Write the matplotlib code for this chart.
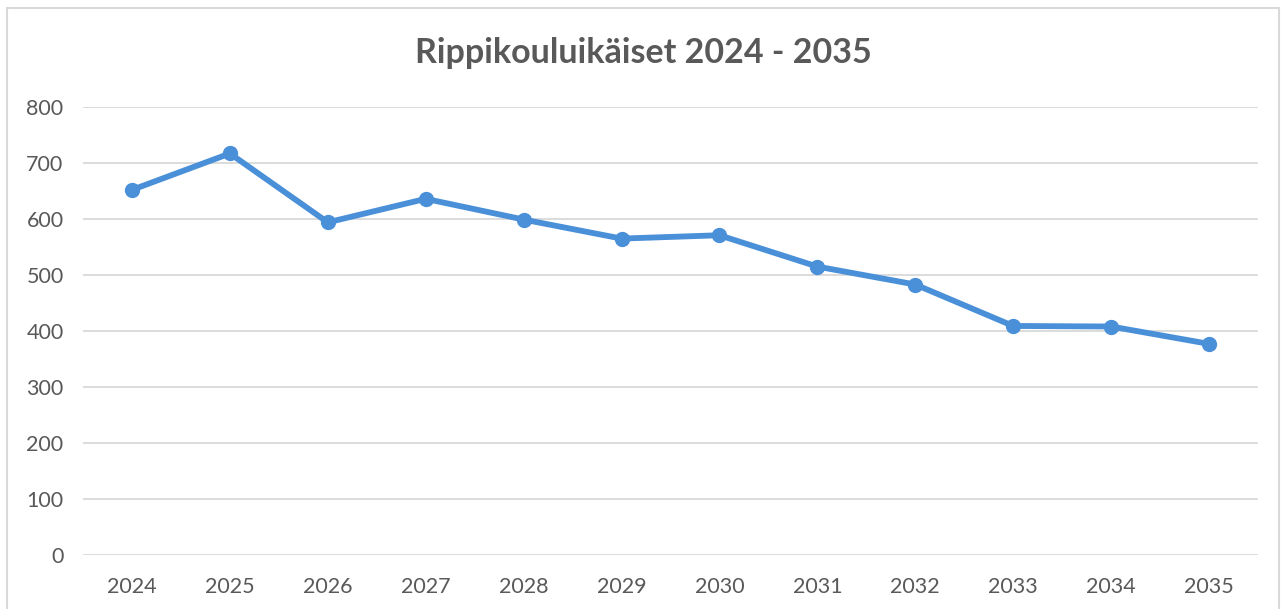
import matplotlib
matplotlib.use("Agg")
import matplotlib.pyplot as plt
from matplotlib.patches import Rectangle

years = ["2024", "2025", "2026", "2027", "2028", "2029", "2030", "2031", "2032", "2033", "2034", "2035"]
values = [652, 717, 594, 636, 599, 565, 571, 515, 483, 409, 408, 377]
yticks = [0, 100, 200, 300, 400, 500, 600, 700, 800]
title = "Rippikouluikäiset 2024 - 2035"

W, H = 1286, 609
plt.rcParams['font.family'] = ['Lato', 'DejaVu Sans']
fig = plt.figure(figsize=(W / 100, H / 100), dpi=100)
fig.patch.set_facecolor('white')

# outer frame
fig.patches.append(Rectangle((7 / W, -0.05), (1279 - 7) / W, (H - 8) / H + 0.05,
                             transform=fig.transFigure, fill=False,
                             edgecolor='#D9D9D9', linewidth=1.5))

left, right, top, bottom = 83, 1258, 107, 555
ax = fig.add_axes([left / W, (H - bottom) / H, (right - left) / W, (bottom - top) / H])

x = list(range(len(years)))
ax.plot(x, values, color='#4A90D9', linewidth=4.2, marker='o', markersize=10,
        solid_joinstyle='round', zorder=3)

ax.set_xlim(-0.5, len(years) - 0.5)
ax.set_ylim(0, 800)
ax.set_yticks(yticks)
ax.set_yticklabels([str(v) for v in yticks])
ax.set_xticks(x)
ax.set_xticklabels(years)
ax.grid(axis='y', color='#D9D9D9', linewidth=1.3)
ax.set_axisbelow(True)
for s in ax.spines.values():
    s.set_visible(False)
ax.tick_params(axis='both', length=0, labelsize=15.5, colors='#595959')
ax.tick_params(axis='y', pad=14)
ax.tick_params(axis='x', pad=16)

fig.text(0.5, (H - 53) / H, title, ha='center', va='center', fontsize=24.5,
         fontweight='bold', color='#595959')

fig.savefig('out.png', dpi=100)
